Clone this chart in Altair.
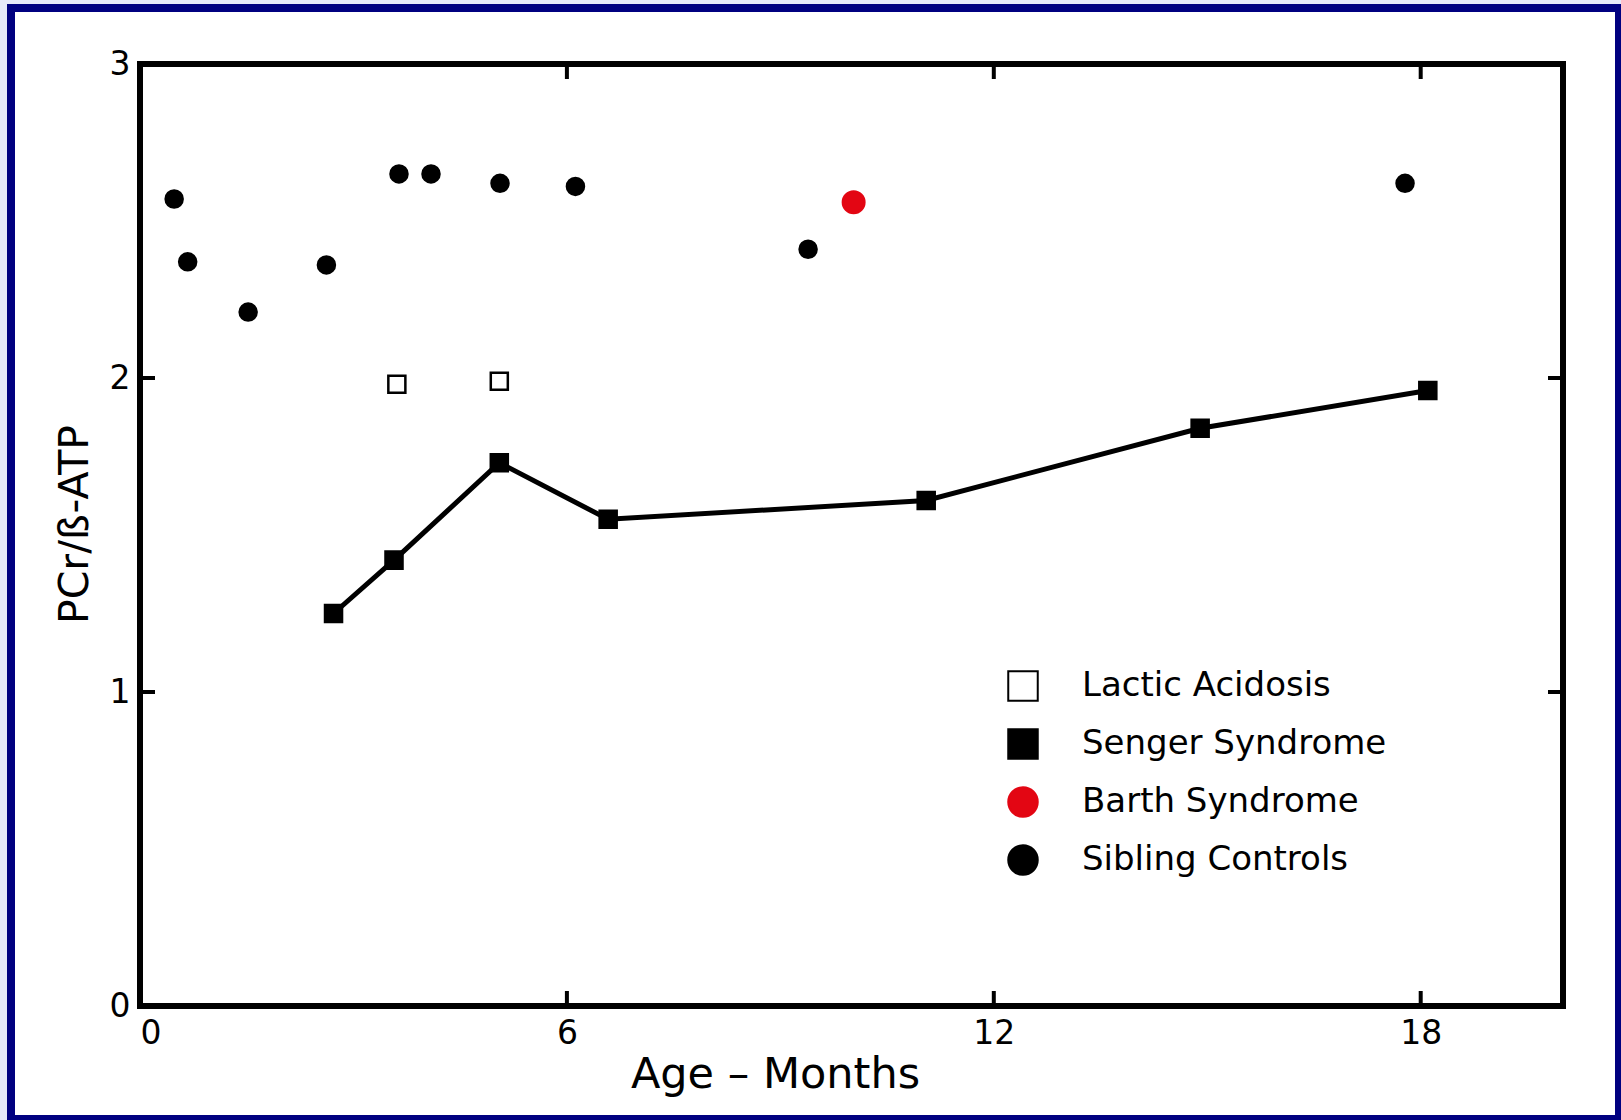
import altair as alt
import pandas as pd

# ---- data ----
groups = ["Lactic Acidosis", "Senger Syndrome", "Barth Syndrome", "Sibling Controls"]

sibling_age = [0.48, 0.67, 1.52, 2.62, 3.64, 4.09, 5.06, 6.12, 9.39, 17.78]
sibling_val = [2.57, 2.37, 2.21, 2.36, 2.65, 2.65, 2.62, 2.61, 2.41, 2.62]

barth_age = [10.03]
barth_val = [2.56]

lactic_age = [3.61, 5.05]
lactic_val = [1.98, 1.99]

senger_age = [2.72, 3.57, 5.05, 6.58, 11.05, 14.9, 18.10]
senger_val = [1.25, 1.42, 1.73, 1.55, 1.61, 1.84, 1.96]

x_ticks = [0, 6, 12, 18]
y_ticks = [0, 1, 2, 3]
x_inner_ticks = [6, 12, 18]
y_inner_ticks = [1, 2]

# ---- tables ----
rows = []
for a, v in zip(lactic_age, lactic_val):
    rows.append({"age": a, "val": v, "group": groups[0]})
for a, v in zip(senger_age, senger_val):
    rows.append({"age": a, "val": v, "group": groups[1]})
for a, v in zip(barth_age, barth_val):
    rows.append({"age": a, "val": v, "group": groups[2]})
for a, v in zip(sibling_age, sibling_val):
    rows.append({"age": a, "val": v, "group": groups[3]})
pts = pd.DataFrame(rows)
senger = pd.DataFrame({"age": senger_age, "val": senger_val})

W, H = 1423, 942
FONT = "DejaVu Sans"
RED = "#e30613"
NAVY = "#000080"
LAV = "#e6e9f9"

xscale = alt.Scale(domain=[0, 20], nice=False, zero=False)
yscale = alt.Scale(domain=[0, 3], nice=False, zero=False)

xaxis = alt.Axis(
    values=x_ticks, title="Age – Months", grid=False, ticks=False, domain=False,
    labelFontSize=33, labelFont=FONT, labelColor="black", labelPadding=11,
    titleFont=FONT, titleFontSize=43, titleFontWeight="normal", titleColor="black",
    titleX=635, titleY=81, titleAlign="center", titleBaseline="alphabetic",
)
yaxis = alt.Axis(
    values=y_ticks, title="PCr/ß-ATP", grid=False, ticks=False, domain=False,
    labelFontSize=33, labelFont=FONT, labelColor="black", labelPadding=10,
    titleFont=FONT, titleFontSize=41, titleFontWeight="normal", titleColor="black",
    titleAngle=270, titleX=-53, titleY=460, titleAlign="center", titleBaseline="alphabetic",
)

one = pd.DataFrame({"k": [0]})

# decorative page frame (lavender strip + navy border)
lav_frame = alt.Chart(one).mark_rect(fillOpacity=0, stroke=LAV, strokeWidth=8).encode(
    x=alt.value(3 - 140), x2=alt.value(1750), y=alt.value(0 - 64), y2=alt.value(1250)
)
navy_frame = alt.Chart(one).mark_rect(fillOpacity=0, stroke=NAVY, strokeWidth=8).encode(
    x=alt.value(11 - 140), x2=alt.value(1619 - 140), y=alt.value(8 - 64), y2=alt.value(1119 - 64)
)

# inward tick marks on all four sides
xt = pd.DataFrame({"age": x_inner_ticks})
yt = pd.DataFrame({"val": y_inner_ticks})
tick_bottom = alt.Chart(xt).mark_rule(color="black", strokeWidth=4).encode(
    x=alt.X("age:Q", scale=xscale, axis=xaxis), y=alt.value(H), y2=alt.value(H - 15)
)
tick_top = alt.Chart(xt).mark_rule(color="black", strokeWidth=4).encode(
    x=alt.X("age:Q", scale=xscale, axis=xaxis), y=alt.value(0), y2=alt.value(15)
)
tick_left = alt.Chart(yt).mark_rule(color="black", strokeWidth=4).encode(
    y=alt.Y("val:Q", scale=yscale, axis=yaxis), x=alt.value(0), x2=alt.value(15)
)
tick_right = alt.Chart(yt).mark_rule(color="black", strokeWidth=4).encode(
    y=alt.Y("val:Q", scale=yscale, axis=yaxis), x=alt.value(W), x2=alt.value(W - 15)
)

line = alt.Chart(senger).mark_line(color="black", strokeWidth=5).encode(
    x=alt.X("age:Q", scale=xscale, axis=xaxis),
    y=alt.Y("val:Q", scale=yscale, axis=yaxis),
)

legend = alt.Legend(title=None)
points = alt.Chart(pts).mark_point(opacity=1, strokeWidth=2.5, filled=False).encode(
    x=alt.X("age:Q", scale=xscale, axis=xaxis),
    y=alt.Y("val:Q", scale=yscale, axis=yaxis),
    shape=alt.Shape("group:N", scale=alt.Scale(domain=groups, range=["square", "square", "circle", "circle"]),
                    legend=legend),
    fill=alt.Fill("group:N", scale=alt.Scale(domain=groups, range=["white", "black", RED, "black"]),
                  legend=legend),
    stroke=alt.Stroke("group:N", scale=alt.Scale(domain=groups, range=["black", "black", RED, "black"]),
                      legend=legend),
    size=alt.condition(alt.datum.group == "Barth Syndrome", alt.value(462), alt.value(290)),
)

chart = alt.layer(
    lav_frame, navy_frame, tick_bottom, tick_top, tick_left, tick_right, line, points
).properties(
    width=W, height=H,
    autosize=alt.AutoSizeParams(type="none"),
    padding={"left": 140, "top": 64, "right": 58, "bottom": 114},
    background="white",
).configure_view(
    stroke="black", strokeWidth=6
).configure_legend(
    orient="none", legendX=866, legendY=605,
    symbolSize=870, symbolStrokeWidth=2,
    labelFont=FONT, labelFontSize=34, labelColor="black", labelLimit=1000,
    labelOffset=42, rowPadding=20,
)

chart.save("out.html", embed_options={"renderer": "svg", "actions": False})
